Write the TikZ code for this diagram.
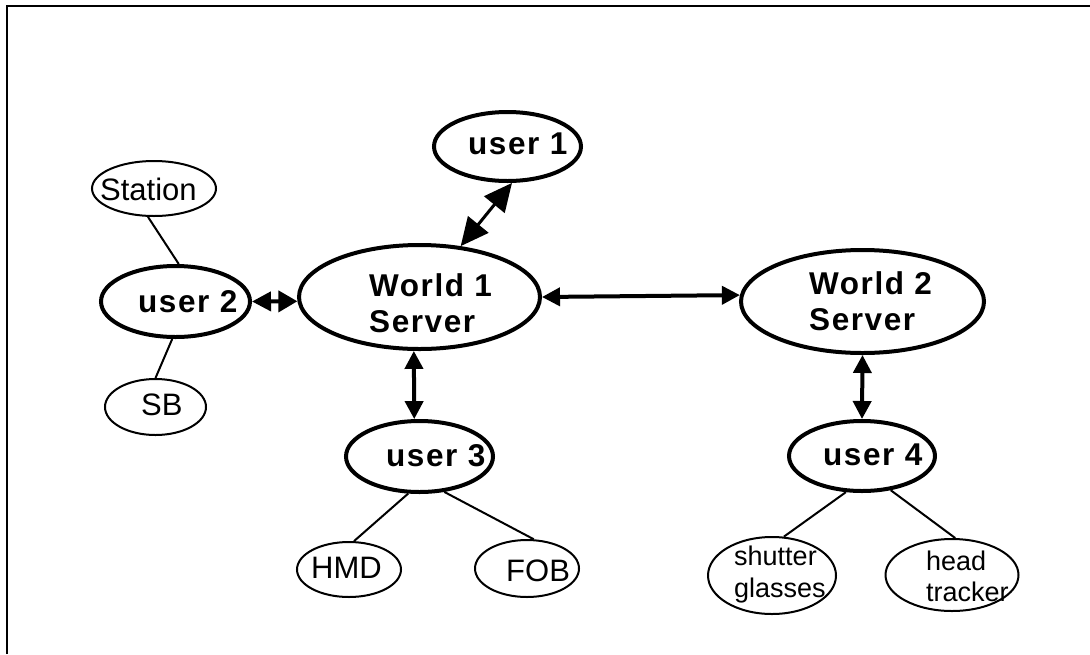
\documentclass[tikz,border=0pt]{standalone}
\usepackage{fontspec}
\setmainfont{Liberation Sans}
\newfontfamily\bfam[LetterSpace=5]{Liberation Sans}
\usetikzlibrary{arrows.meta,shapes.geometric}
\newcommand\twoln[3]{\vtop{\baselineskip=#1\lineskiplimit=-100pt\lineskip=0pt\hbox{#2}\hbox{#3}}}
\begin{document}
\begin{tikzpicture}[x=1pt,y=-1pt,
  hub/.style={draw, ellipse, line width=4pt, inner sep=0pt},
  leaf/.style={draw, ellipse, line width=2pt, inner sep=0pt},
  btxt/.style={inner sep=0pt, anchor=base west, font=\bfam\bfseries\fontsize{31.5}{36}\selectfont},
  ltxt/.style={inner sep=0pt, anchor=base west, font=\fontsize{31}{36}\selectfont},
  stxt/.style={inner sep=0pt, anchor=base west, font=\fontsize{27}{31.5}\selectfont},
  link/.style={line width=2pt},
  bia/.style={line width=4pt, {Triangle[length=18pt,width=18pt]}-{Triangle[length=18pt,width=18pt]}},
  bib/.style={line width=3pt, {Triangle[length=28pt,width=26pt]}-{Triangle[length=28pt,width=26pt]}},
  bic/.style={line width=4pt, {Triangle[length=19pt,width=19pt]}-{Triangle[length=19pt,width=21pt]}}
]
\useasboundingbox (0,0) rectangle (1090,654);
\fill[white] (0,0) rectangle (1090,654);
\draw[line width=2.5pt] (7,654) -- (7,6) -- (1090,6);

% ellipses
\node[leaf, minimum width=124pt, minimum height=55pt] (st) at (154,188.5) {};
\node[hub, minimum width=147pt, minimum height=69pt] (u1) at (507.5,146.5) {};
\node[hub, minimum width=149pt, minimum height=71pt] (u2) at (175.5,301.5) {};
\node[hub, minimum width=241pt, minimum height=104pt] (w1) at (419.5,297) {};
\node[hub, minimum width=243pt, minimum height=103pt] (w2) at (862.5,301.5) {};
\node[leaf, minimum width=101pt, minimum height=56pt] (sb) at (155.5,407) {};
\node[hub, minimum width=147pt, minimum height=71pt] (u3) at (419.5,456.5) {};
\node[hub, minimum width=146pt, minimum height=70pt] (u4) at (862,456) {};
\node[leaf, minimum width=104pt, minimum height=55pt] (hmd) at (349,569.5) {};
\node[leaf, minimum width=104pt, minimum height=57pt] (fob) at (527,568.5) {};
\node[leaf, minimum width=128pt, minimum height=77pt] (sh) at (772,575.5) {};
\node[leaf, minimum width=133pt, minimum height=72pt] (hd) at (952,575) {};

% texts
\node[ltxt] (tst) at (100,200.5) {Station};
\node[btxt] (tu1) at (468,154) {user 1};
\node[btxt] (tu2) at (138,312) {user 2};
\node[btxt] (tw1) at (369,296) {\twoln{36pt}{World 1}{Server}};
\node[btxt] (tw2) at (809,294) {\twoln{36pt}{World 2}{Server}};
\node[ltxt] (tsb) at (141,415) {SB};
\node[btxt] (tu3) at (386,466) {user 3};
\node[btxt] (tu4) at (823,465) {user 4};
\node[ltxt] (thmd) at (311,578) {HMD};
\node[ltxt] (tfob) at (506,581) {FOB};
\node[stxt] (tsh) at (734,565) {\twoln{32pt}{shutter}{glasses}};
\node[stxt] (thd) at (926,570) {\twoln{31pt}{head}{tracker}};

% connectors
\draw[link] (st.-102) -- (u2.85);
\draw[link] (u2.-95) -- (sb.north);
\draw[link] (u3.-107) -- (hmd.80);
\draw[link] (u3.-55) -- (fob.77);
\draw[link] (u4.-114) -- (sh.73);
\draw[link] (u4.-50) -- (hd.85);

\draw[bib] (u1.-83) -- (w1.51);
\draw[bic] (u2.east) -- (w1.-178);
\draw[bia] (w1.east) -- (w2.177);
\draw[bia] (w1.-96) -- (u3.98);
\draw[bia] (w2.south) -- (u4.north);
\end{tikzpicture}
\end{document}
